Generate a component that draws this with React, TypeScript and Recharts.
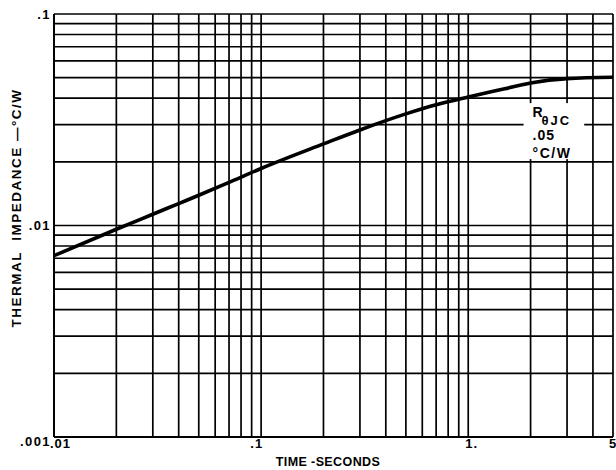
import {
  LineChart,
  Line,
  XAxis,
  YAxis,
  CartesianGrid,
  ReferenceArea,
} from "recharts";

// curve
const timeSeconds = [0.01, 0.02, 0.03, 0.04, 0.05, 0.07, 0.1, 0.2, 0.3, 0.5, 0.7, 1, 1.5, 2, 3, 5];
const impedance = [0.0072, 0.0096, 0.0113, 0.0127, 0.0139, 0.016, 0.0186, 0.0243, 0.0283, 0.0337, 0.0372, 0.0405, 0.0443, 0.0472, 0.0495, 0.0502];

const xTicks = [
  0.01, 0.02, 0.03, 0.04, 0.05, 0.06, 0.07, 0.08, 0.09,
  0.1, 0.2, 0.3, 0.4, 0.5, 0.6, 0.7, 0.8, 0.9,
  1, 2, 3, 4, 5,
];
const xTickLabels = [
  ".01", "", "", "", "", "", "", "", "",
  ".1", "", "", "", "", "", "", "", "",
  "1.", "", "", "", "5",
];

const yTicks = [
  0.001, 0.002, 0.003, 0.004, 0.005, 0.006, 0.007, 0.008, 0.009,
  0.01, 0.02, 0.03, 0.04, 0.05, 0.06, 0.07, 0.08, 0.09,
  0.1,
];
const yTickLabels = [
  ".001", "", "", "", "", "", "", "", "",
  ".01", "", "", "", "", "", "", "", "",
  ".1",
];

const noteLines = ["R", "θJC", ".05", "°C/W"];

const data = timeSeconds.map((t, i) => ({ t, z: impedance[i] }));

const FONT = "'Liberation Sans', Arial, sans-serif";

const textStyle = {
  fontFamily: FONT,
  fontWeight: 700,
  fill: "#000",
};

const XTick = (props: any) => {
  const { x, y, index } = props;
  const label = xTickLabels[index];
  if (!label) return null;
  let anchor = "middle";
  let dx = 0;
  if (label === ".01") { anchor = "start"; dx = -4; }
  if (label === ".1") { anchor = "end"; dx = 2; }
  if (label === "1.") { anchor = "start"; dx = -3; }
  return (
    <text x={x + dx} y={y} dy="0.72em" textAnchor={anchor} fontSize={13} letterSpacing={1} style={textStyle}>
      {label}
    </text>
  );
};

const YTick = (props: any) => {
  const { x, y, index } = props;
  const label = yTickLabels[index];
  if (!label) return null;
  let dy = 0;
  if (label === ".001") dy = 4;
  return (
    <text x={x} y={y + dy} dy="0.36em" textAnchor="end" fontSize={13} letterSpacing={1.4} style={textStyle}>
      {label}
    </text>
  );
};

const NoteBox = (props: any) => {
  const { x, y, width, height } = props;
  const left = x + 9;
  return (
    <g>
      <rect x={x} y={y} width={width} height={height} fill="#fff" />
      <text x={left} y={y + 14} fontSize={14} style={textStyle}>{noteLines[0]}</text>
      <text x={left + 9} y={y + 22} fontSize={13} letterSpacing={2} style={textStyle}>{noteLines[1]}</text>
      <text x={left} y={y + 37} fontSize={14} letterSpacing={1} style={textStyle}>{noteLines[2]}</text>
      <text x={left} y={y + 55} fontSize={14} letterSpacing={1.5} style={textStyle}>{noteLines[3]}</text>
    </g>
  );
};

export default function App() {
  return (
    <div style={{ position: "absolute", left: 0, top: 0, background: "#fff" }}>
      <LineChart
        width={616}
        height={470}
        data={data}
        margin={{ top: 14, right: 3, left: 0, bottom: 0 }}
      >
        <CartesianGrid stroke="#000" strokeWidth={1.7} strokeOpacity={1} />
        <XAxis
          dataKey="t"
          type="number"
          scale="log"
          domain={[0.01, 5]}
          ticks={xTicks}
          allowDataOverflow
          height={33}
          tickLine={false}
          tickSize={0}
          tickMargin={2}
          axisLine={{ stroke: "#000", strokeWidth: 2 }}
          tick={XTick}
          interval={0}
          label={() => (
            <text x={328} y={466} textAnchor="middle" fontSize={12.5} letterSpacing={0.4} style={textStyle}>
              TIME -SECONDS
            </text>
          )}
        />
        <YAxis
          dataKey="z"
          type="number"
          scale="log"
          domain={[0.001, 0.1]}
          ticks={yTicks}
          allowDataOverflow
          width={54}
          tickLine={false}
          tickSize={0}
          tickMargin={3}
          axisLine={{ stroke: "#000", strokeWidth: 2 }}
          tick={YTick}
          interval={0}
          label={() => (
            <text
              x={21}
              y={208}
              transform="rotate(-90 21 208)"
              textAnchor="middle"
              fontSize={13.5}
              letterSpacing={1.5}
              style={{ ...textStyle, whiteSpace: "pre" }}
            >
              {"THERMAL  IMPEDANCE —°C/W"}
            </text>
          )}
        />
        <ReferenceArea
          x1={1.85}
          x2={3.63}
          y1={0.0206}
          y2={0.0379}
          ifOverflow="visible"
          shape={NoteBox}
        />
        <Line
          type="monotone"
          dataKey="z"
          stroke="#000"
          strokeWidth={3.6}
          dot={false}
          isAnimationActive={false}
        />
      </LineChart>
    </div>
  );
}
